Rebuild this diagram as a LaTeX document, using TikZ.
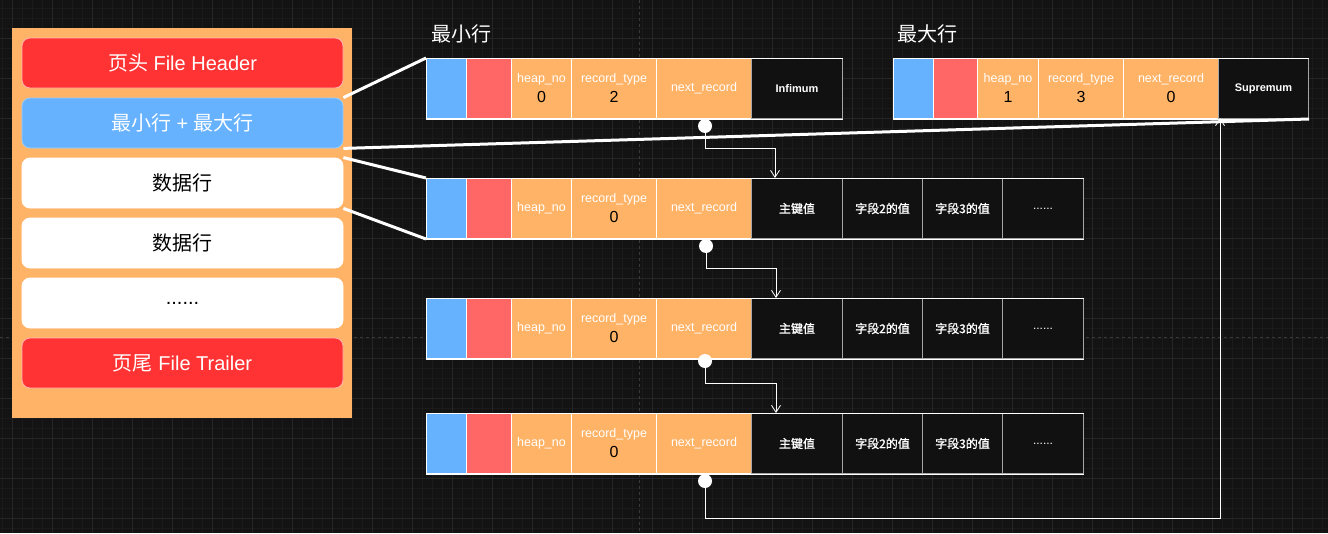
\documentclass[tikz,border=0pt]{standalone}
\usepackage{fontspec}
\setmainfont{Liberation Sans}
\newfontfamily\cjk{Noto Sans CJK SC}
\newfontfamily\cjkb[FakeBold=1.2]{Noto Sans CJK SC}
\usetikzlibrary{arrows.meta}
\definecolor{bg}{HTML}{131313}
\definecolor{gmin}{HTML}{1B1B1B}
\definecolor{gmaj}{HTML}{262626}
\definecolor{gdash}{HTML}{3A3A3A}
\definecolor{orng}{HTML}{FFB366}
\definecolor{hred}{HTML}{FF3333}
\definecolor{hblue}{HTML}{66B2FF}
\definecolor{cred}{HTML}{FF6666}
\definecolor{cblk}{HTML}{111111}
\definecolor{pinkline}{HTML}{FFB3B3}
\definecolor{blueline}{HTML}{99CCFF}
\tikzset{
 pbox/.style={rounded corners=8pt, minimum width=321pt, minimum height=50pt, inner sep=0pt, line width=0.8pt, font=\fontsize{20}{24}\selectfont},
 cell/.style={anchor=north west, minimum height=60pt, inner sep=0pt, draw=white, line width=1pt},
 ocell/.style={cell, fill=orng, text=white, font=\fontsize{12.5}{14}\selectfont},
 bcell/.style={cell, fill=cblk, draw=gray!70, text=white, font=\fontsize{12}{14}\selectfont},
 lbltxt/.style={inner sep=0pt, text=white, font=\fontsize{12.5}{14}\selectfont},
 numtxt/.style={inner sep=0pt, text=black, font=\fontsize{16}{18}\selectfont},
 dot/.style={circle, fill=white, minimum size=14pt, inner sep=0pt},
 conn/.style={draw=white, line width=0.8pt},
 arr/.style={-{Straight Barb[length=7pt,width=9pt]}},
 thicklink/.style={draw=white, line width=3pt},
 title/.style={anchor=west, text=white, inner sep=0pt, font=\fontsize{20}{24}\selectfont\cjk},
}
% two-line cell text: cell name, label, value
\newcommand\twoline[3]{%
 \node[lbltxt] (#1-l) at ([yshift=9pt]#1.center) {#2};
 \node[numtxt] (#1-v) at ([yshift=-8.5pt]#1.center) {#3};}
\begin{document}
\begin{tikzpicture}[x=1pt,y=-1pt]
\useasboundingbox (0,0) rectangle (1328,533);
\fill[bg] (0,0) rectangle (1328,533);
\foreach \x in {2,12,...,1322} \draw[gmin,line width=0.6pt] (\x,0) -- (\x,533);
\foreach \y in {8,18,...,528} \draw[gmin,line width=0.6pt] (0,\y) -- (1328,\y);
\foreach \x in {12,52,...,1292} \draw[gmaj,line width=0.8pt] (\x,0) -- (\x,533);
\foreach \y in {38,78,...,518} \draw[gmaj,line width=0.8pt] (0,\y) -- (1328,\y);
\draw[gdash,dashed,line width=0.8pt] (639,0) -- (639,533);
\draw[gdash,dashed,line width=0.8pt] (0,337) -- (1328,337);

% left page panel
\node[fill=orng, minimum width=340pt, minimum height=390pt, inner sep=0pt] (page) at (182,223) {};
\node[pbox, fill=hred, draw=pinkline, text=white] (hdr) at (182.5,63) {{\cjk 页头} File Header};
\node[pbox, fill=hblue, draw=blueline, text=white] (mm) at (182.5,123) {{\cjk 最小行} + {\cjk 最大行}};
\node[pbox, fill=white, draw=white, text=black] (rowa) at (182.5,183) {\cjk 数据行};
\node[pbox, fill=white, draw=white, text=black] (rowb) at (182.5,243) {\cjk 数据行};
\node[pbox, fill=white, draw=white, text=black] (dots) at (182.5,303) {......};
\node[pbox, fill=hred, draw=pinkline, text=white] (trl) at (182.5,363) {{\cjk 页尾} File Trailer};

% titles
\node[title] (tmin) at (431,34) {最小行};
\node[title] (tmax) at (897,34) {最大行};

% infimum row
\node[cell, fill=hblue, minimum width=40pt] (r0-a) at (426,58) {};
\node[cell, fill=cred, minimum width=45pt] (r0-b) at (466,58) {};
\node[ocell, minimum width=60pt] (r0-h) at (511,58) {};
\node[ocell, minimum width=85pt] (r0-t) at (571,58) {};
\node[ocell, minimum width=95pt] (r0-n) at (656,58) {next\_record};
\node[bcell, minimum width=91pt] (r0-i) at (751,58) {\bfseries\fontsize{11}{13}\selectfont Infimum};
\twoline{r0-h}{heap\_no}{0}
\twoline{r0-t}{record\_type}{2}
\draw[white,line width=1pt] (r0-a.north west) -- (r0-i.north east) (r0-a.south west) -- (r0-i.south east);

% supremum row
\node[cell, fill=hblue, minimum width=40pt] (m-a) at (893,58) {};
\node[cell, fill=cred, minimum width=44pt] (m-b) at (933,58) {};
\node[ocell, minimum width=61pt] (m-h) at (977,58) {};
\node[ocell, minimum width=85pt] (m-t) at (1038,58) {};
\node[ocell, minimum width=95pt] (m-n) at (1123,58) {};
\node[bcell, minimum width=90pt] (m-s) at (1218,58) {\bfseries\fontsize{11}{13}\selectfont Supremum};
\twoline{m-h}{heap\_no}{1}
\twoline{m-t}{record\_type}{3}
\twoline{m-n}{next\_record}{0}
\draw[white,line width=1pt] (m-a.north west) -- (m-s.north east) (m-a.south west) -- (m-s.south east);

% data rows
\foreach \i/\y in {1/178,2/298,3/413}{
 \node[cell, fill=hblue, minimum width=40pt] (r\i-a) at (426,\y) {};
 \node[cell, fill=cred, minimum width=45pt] (r\i-b) at (466,\y) {};
 \node[ocell, minimum width=60pt] (r\i-h) at (511,\y) {heap\_no};
 \node[ocell, minimum width=85pt] (r\i-t) at (571,\y) {};
 \node[ocell, minimum width=95pt] (r\i-n) at (656,\y) {next\_record};
 \node[bcell, minimum width=91pt] (r\i-k) at (751,\y) {\cjkb 主键值};
 \node[bcell, minimum width=80pt] (r\i-f) at (842,\y) {\cjkb 字段2的值};
 \node[bcell, minimum width=80pt] (r\i-g) at (922,\y) {\cjkb 字段3的值};
 \node[bcell, minimum width=81pt] (r\i-e) at (1002,\y) {......};
 \twoline{r\i-t}{record\_type}{0}
 \draw[white,line width=1pt] (r\i-a.north west) -- (r\i-e.north east) (r\i-a.south west) -- (r\i-e.south east);
}

% next_record connectors
\node[dot] (d0) at (705,126) {};
\node[dot] (d1) at (706,246) {};
\node[dot] (d2) at (705,361) {};
\node[dot] (d3) at (705,481) {};
\coordinate (k0) at (775,148); \coordinate (t1) at (775,178);
\coordinate (k1) at (776,268); \coordinate (t2) at (776,298);
\coordinate (k2) at (776,383); \coordinate (t3) at (776,413);
\coordinate (k3) at (1220,518); \coordinate (t4) at (1220,118);
\draw[conn,arr] (d0) |- (k0) -- (t1);
\draw[conn,arr] (d1) |- (k1) -- (t2);
\draw[conn,arr] (d2) |- (k2) -- (t3);
\draw[conn,arr] (d3) |- (k3) -- (t4);

% zoom links
\draw[thicklink] (mm.north east) -- (r0-a.north west);
\draw[thicklink] (mm.south east) -- (m-s.south east);
\draw[thicklink] (rowa.north east) -- (r1-a.north west);
\draw[thicklink] (rowa.south east) -- (r1-a.south west);
\end{tikzpicture}
\end{document}
